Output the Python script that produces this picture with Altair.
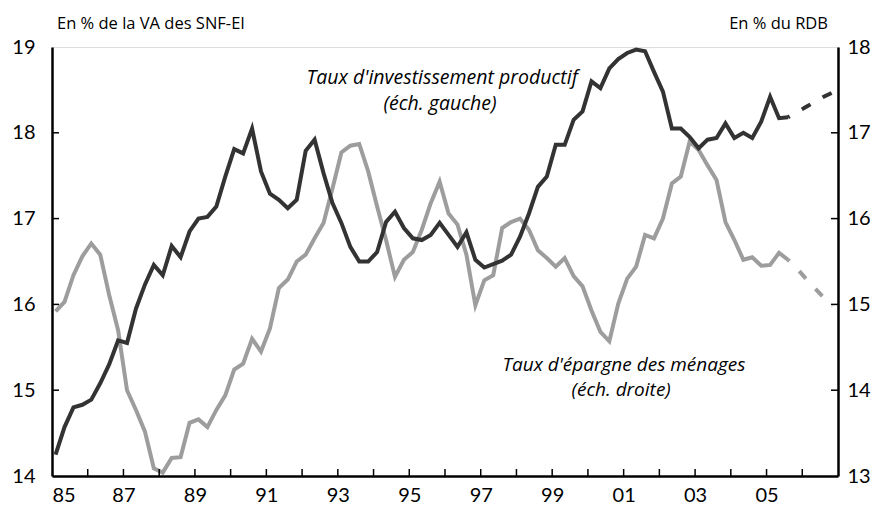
import altair as alt
import pandas as pd

# ---------------- data (quarterly, from 1985Q1) ----------------
START_YEAR = 1985

inv_obs = [14.25, 14.57, 14.80, 14.83, 14.89, 15.08, 15.30, 15.58, 15.55, 15.95,
           16.23, 16.46, 16.34, 16.68, 16.55, 16.85, 17.00, 17.02, 17.14, 17.49,
           17.81, 17.76, 18.05, 17.55, 17.29, 17.22, 17.12, 17.22, 17.79, 17.92,
           17.53, 17.18, 16.95, 16.67, 16.50, 16.50, 16.61, 16.96, 17.08, 16.89,
           16.77, 16.75, 16.81, 16.95, 16.81, 16.67, 16.84, 16.52, 16.43, 16.47,
           16.51, 16.58, 16.79, 17.06, 17.37, 17.49, 17.86, 17.86, 18.15, 18.25,
           18.60, 18.52, 18.75, 18.86, 18.93, 18.97, 18.95, 18.71, 18.48, 18.05,
           18.05, 17.95, 17.82, 17.92, 17.94, 18.11, 17.94, 18.00, 17.94, 18.13,
           18.42, 18.17, 18.18]
inv_proj = [18.18, 18.24, 18.30, 18.36, 18.42, 18.47]

sav_obs = [14.92, 15.03, 15.34, 15.56, 15.71, 15.58, 15.11, 14.70, 14.00, 13.77,
           13.52, 13.09, 13.04, 13.21, 13.22, 13.62, 13.66, 13.57, 13.77, 13.94,
           14.24, 14.31, 14.60, 14.45, 14.72, 15.19, 15.29, 15.50, 15.58, 15.77,
           15.95, 16.35, 16.77, 16.85, 16.87, 16.55, 16.14, 15.75, 15.32, 15.52,
           15.61, 15.87, 16.18, 16.43, 16.06, 15.93, 15.58, 14.99, 15.28, 15.34,
           15.89, 15.96, 16.00, 15.87, 15.63, 15.54, 15.44, 15.54, 15.33, 15.21,
           14.93, 14.68, 14.57, 15.01, 15.30, 15.44, 15.81, 15.77, 16.00, 16.41,
           16.49, 16.90, 16.80, 16.62, 16.45, 15.96, 15.75, 15.52, 15.55, 15.45,
           15.46, 15.60, 15.52]
sav_proj = [15.52, 15.42, 15.30, 15.19, 15.08, 14.98]

x_tick_years = list(range(1986, 2007))
x_label_years = list(range(1985, 2006, 2))
left_ticks = [15, 16, 17, 18]
right_ticks = [14, 15, 16, 17]

ann_inv_text = ["Taux d'investissement productif", "(éch. gauche)"]
ann_inv_t = [1995.92, 1995.86]
ann_inv_v = [18.64, 18.34]
ann_sav_text = ["Taux d'épargne des ménages", "(éch. droite)"]
ann_sav_t = [2001.01, 2000.93]
ann_sav_v = [14.29, 14.00]


def qpos(i):
    return START_YEAR + 0.1 + 0.25 * i


n_obs = len(inv_obs)
df_inv = pd.DataFrame({"t": [qpos(i) for i in range(n_obs)], "v": inv_obs})
df_inv_p = pd.DataFrame({"t": [qpos(n_obs - 1 + i) for i in range(len(inv_proj))], "v": inv_proj})
df_sav = pd.DataFrame({"t": [qpos(i) for i in range(len(sav_obs))], "v": sav_obs})
df_sav_p = pd.DataFrame({"t": [qpos(len(sav_obs) - 1 + i) for i in range(len(sav_proj))], "v": sav_proj})
df_xt = pd.DataFrame({"t": x_tick_years})
df_lt = pd.DataFrame({"v": left_ticks})
df_rt = pd.DataFrame({"v": right_ticks})
df_ann1 = pd.DataFrame({"t": ann_inv_t, "v": ann_inv_v, "label": ann_inv_text})
df_ann2 = pd.DataFrame({"t": ann_sav_t, "v": ann_sav_v, "label": ann_sav_text})

# ---------------- style ----------------
W, H = 786, 429
FONT = "Lato"
TFONT = "Open Sans"
DARK = "#333333"
GRAY = "#9d9d9d"
LW = 4

xenc = alt.X(
    "t:Q",
    scale=alt.Scale(domain=[1985, 2007], nice=False, zero=False),
    axis=alt.Axis(values=x_label_years,
                  labelExpr="substring(toString(100 + datum.value % 100), 1)",
                  tickSize=0, grid=False, domainWidth=2.5, domainColor="black",
                  labelFont=FONT, labelFontSize=20, labelColor="black",
                  labelPadding=9, title=None),
)
yL = alt.Y(
    "v:Q",
    scale=alt.Scale(domain=[14, 19], nice=False, zero=False),
    axis=alt.Axis(orient="left", values=[14, 15, 16, 17, 18, 19], format="d",
                  tickSize=0, grid=False, domainWidth=2.5, domainColor="black",
                  labelFont=FONT, labelFontSize=20, labelColor="black",
                  labelPadding=17, title=None),
)
yR = alt.Y(
    "v:Q",
    scale=alt.Scale(domain=[13, 18], nice=False, zero=False),
    axis=alt.Axis(orient="right", values=[13, 14, 15, 16, 17, 18], format="d",
                  tickSize=0, grid=False, domainWidth=2.5, domainColor="black",
                  labelFont=FONT, labelFontSize=20, labelColor="black",
                  labelPadding=9, title=None),
)

inv_line = alt.Chart(df_inv).mark_line(color=DARK, strokeWidth=LW).encode(x=xenc, y=yL)
inv_dash = alt.Chart(df_inv_p).mark_line(color=DARK, strokeWidth=LW, strokeDash=[10, 14],
                                         strokeDashOffset=8).encode(x=xenc, y=yL)
left_tick_marks = alt.Chart(df_lt).mark_rule(color="black", strokeWidth=1.5).encode(
    y=yL, x=alt.value(0), x2=alt.value(7))
ann1 = alt.Chart(df_ann1).mark_text(font=TFONT, fontSize=19.5, fontStyle="italic",
                                    align="center", baseline="middle", color="black").encode(
    x=xenc, y=yL, text="label:N")

sav_line = alt.Chart(df_sav).mark_line(color=GRAY, strokeWidth=LW).encode(x=xenc, y=yR)
sav_dash = alt.Chart(df_sav_p).mark_line(color=GRAY, strokeWidth=LW, strokeDash=[10, 14],
                                         strokeDashOffset=8).encode(x=xenc, y=yR)
right_tick_marks = alt.Chart(df_rt).mark_rule(color="black", strokeWidth=1.5).encode(
    y=yR, x=alt.value(W - 7), x2=alt.value(W))
ann2 = alt.Chart(df_ann2).mark_text(font=TFONT, fontSize=19, fontStyle="italic",
                                    align="center", baseline="middle", color="black").encode(
    x=xenc, y=yR, text="label:N")

bottom_ticks = alt.Chart(df_xt).mark_rule(color="black", strokeWidth=1.5).encode(
    x=xenc, y=alt.value(H), y2=alt.value(H - 7))

head_left = alt.Chart(pd.DataFrame({"label": ["En % de la VA des SNF-EI"]})).mark_text(
    font=TFONT, fontSize=16.5, align="left", baseline="middle", color="black").encode(
    x=alt.value(5), y=alt.value(-23), text="label:N")
head_right = alt.Chart(pd.DataFrame({"label": ["En % du RDB"]})).mark_text(
    font=TFONT, fontSize=16.5, align="right", baseline="middle", color="black").encode(
    x=alt.value(W - 10), y=alt.value(-23), text="label:N")

inv_group = alt.layer(inv_line, inv_dash, left_tick_marks, ann1)
sav_group = alt.layer(sav_line, sav_dash, right_tick_marks, ann2)

chart = (
    alt.layer(sav_group, inv_group, bottom_ticks, head_left, head_right)
    .resolve_scale(y="independent")
    .properties(width=W, height=H,
                autosize=alt.AutoSizeParams(type="none"),
                padding={"left": 44, "top": 39, "right": 34, "bottom": 31})
    .configure_view(stroke="black", strokeWidth=1.5)
    .configure(background="white")
)

chart.save("out.html", embed_options={"renderer": "svg", "actions": False})
